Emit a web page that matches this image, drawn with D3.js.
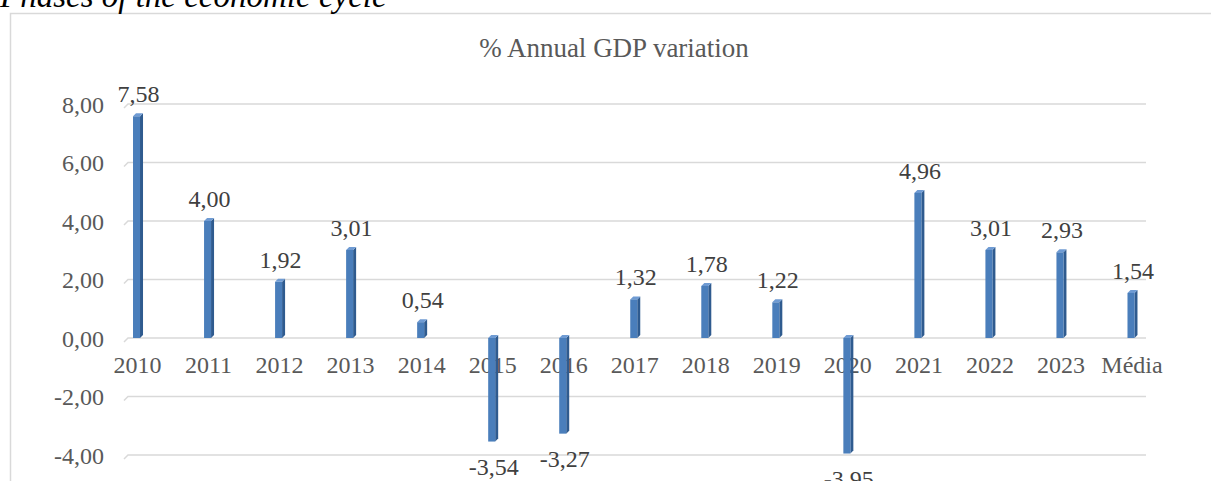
<!DOCTYPE html>
<html>
<head>
<meta charset="utf-8">
<script src="https://cdn.jsdelivr.net/npm/d3@7"></script>
<style>
  html, body { margin: 0; padding: 0; background: #fff; overflow: hidden; }
  svg { display: block; }
  text { font-family: "Liberation Serif", "Times New Roman", serif; }
</style>
</head>
<body>
<svg id="chart" width="1211" height="481"></svg>
<script>
const categories = ["2010","2011","2012","2013","2014","2015","2016","2017","2018","2019","2020","2021","2022","2023","Média"];
const gdpVariation = [7.58, 4.00, 1.92, 3.01, 0.54, -3.54, -3.27, 1.32, 1.78, 1.22, -3.95, 4.96, 3.01, 2.93, 1.54];
const yTicks = [-4, -2, 0, 2, 4, 6, 8];
const chartTitle = "% Annual GDP variation";
const pageTitle = "Phases of the economic cycle";

const W = 1211, H = 481;
const svg = d3.select("#chart");
const locale = d3.formatLocale({decimal: ",", thousands: ".", grouping: [3], currency: ["", ""], minus: "-"});
const fmt = locale.format(".2f");

// chart frame (cut off at bottom/right)
svg.append("rect")
  .attr("x", 10.5).attr("y", 13.5)
  .attr("width", 1240).attr("height", 520)
  .attr("fill", "#fff").attr("stroke", "#d9d9d9").attr("stroke-width", 1.5);

// page title (cut off at top)
svg.append("text")
  .attr("x", 0).attr("y", 7)
  .attr("font-size", 33).attr("font-style", "italic")
  .attr("fill", "#000")
  .text(pageTitle);

// chart title
svg.append("text")
  .attr("x", 614).attr("y", 57)
  .attr("text-anchor", "middle")
  .attr("font-size", 27).attr("fill", "#595959")
  .text(chartTitle);

const x = d3.scaleBand().domain(categories).range([102, 1167.5]).padding(0);
const y = d3.scaleLinear().domain([-4, 8]).range([455, 104]);

const gridX0 = 128, gridX1 = 1146, depth = 4;

// gridlines with small 3D floor diagonal on left
const grid = svg.append("g");
yTicks.forEach(t => {
  grid.append("path")
    .attr("d", `M${gridX0 - depth},${y(t) + depth}L${gridX0},${y(t)}L${gridX1},${y(t)}`)
    .attr("fill", "none").attr("stroke", "#d9d9d9").attr("stroke-width", 1.5);
});

// y axis labels
const yAxis = d3.axisLeft(y).tickValues(yTicks).tickFormat(fmt).tickSize(0).tickPadding(0);
const yg = svg.append("g").attr("transform", "translate(104,0)").call(yAxis);
yg.select(".domain").remove();
yg.selectAll("text")
  .attr("font-family", "Liberation Serif, serif")
  .attr("font-size", 24).attr("fill", "#595959")
  .attr("dy", "0.35em");

// x axis labels (at zero line)
const xAxis = d3.axisBottom(x).tickSize(0).tickPadding(0);
const xg = svg.append("g").attr("transform", `translate(0,${y(0)})`).call(xAxis);
xg.select(".domain").remove();
xg.selectAll("text")
  .attr("font-family", "Liberation Serif, serif")
  .attr("font-size", 24).attr("fill", "#595959")
  .attr("dy", "1.45em");

// 3D bars
const bw = 7, side = 3;
const bars = svg.append("g");
categories.forEach((c, i) => {
  const v = gdpVariation[i];
  const cx = x(c) + x.bandwidth() / 2;
  const x0 = cx - 4.5, x1 = x0 + bw;
  const yTop = Math.min(y(v), y(0)), yBot = Math.max(y(v), y(0));
  // side face
  bars.append("path")
    .attr("d", `M${x1},${yTop}L${x1 + side},${yTop - side}L${x1 + side},${yBot - side}L${x1},${yBot}Z`)
    .attr("fill", "#2f5b8f");
  // top face
  bars.append("path")
    .attr("d", `M${x0},${yTop}L${x0 + side},${yTop - side}L${x1 + side},${yTop - side}L${x1},${yTop}Z`)
    .attr("fill", "#6f9bd3");
  // front face
  bars.append("rect")
    .attr("x", x0).attr("y", yTop)
    .attr("width", bw).attr("height", yBot - yTop)
    .attr("fill", "#4a7ebb");
});

// data labels
svg.append("g").selectAll("text")
  .data(categories.map((c, i) => ({c, v: gdpVariation[i]})))
  .join("text")
  .attr("x", d => x(d.c) + x.bandwidth() / 2 + 1)
  .attr("y", d => d.v >= 0 ? y(d.v) - 14 : y(d.v) + 33)
  .attr("text-anchor", "middle")
  .attr("font-size", 24).attr("fill", "#404040")
  .text(d => fmt(d.v));
</script>
</body>
</html>
